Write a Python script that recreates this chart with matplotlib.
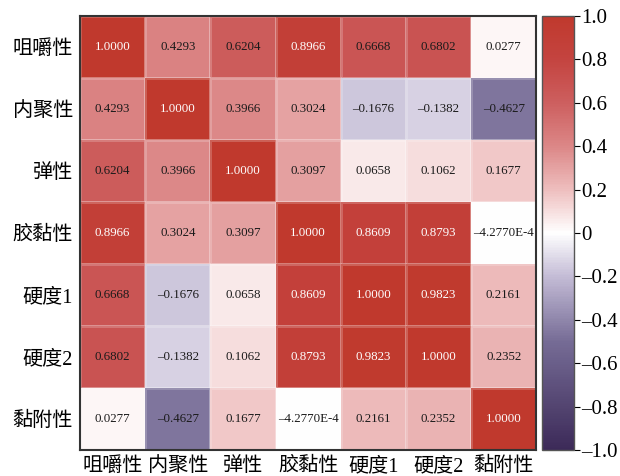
import numpy as np
import matplotlib
matplotlib.use("Agg")
import matplotlib.pyplot as plt
from matplotlib.colors import LinearSegmentedColormap

# texture profile attributes
labels = ["咀嚼性", "内聚性", "弹性", "胶黏性", "硬度1", "硬度2", "黏附性"]

r_chew = [1.0000, 0.4293, 0.6204, 0.8966, 0.6668, 0.6802, 0.0277]
r_cohe = [0.4293, 1.0000, 0.3966, 0.3024, -0.1676, -0.1382, -0.4627]
r_spri = [0.6204, 0.3966, 1.0000, 0.3097, 0.0658, 0.1062, 0.1677]
r_gumm = [0.8966, 0.3024, 0.3097, 1.0000, 0.8609, 0.8793, -4.2770e-4]
r_hard1 = [0.6668, -0.1676, 0.0658, 0.8609, 1.0000, 0.9823, 0.2161]
r_hard2 = [0.6802, -0.1382, 0.1062, 0.8793, 0.9823, 1.0000, 0.2352]
r_adhe = [0.0277, -0.4627, 0.1677, -4.2770e-4, 0.2161, 0.2352, 1.0000]

corr = np.array([r_chew, r_cohe, r_spri, r_gumm, r_hard1, r_hard2, r_adhe])

cbar_ticks = [1.0, 0.8, 0.6, 0.4, 0.2, 0, -0.2, -0.4, -0.6, -0.8, -1.0]
cbar_labels = ["1.0", "0.8", "0.6", "0.4", "0.2", "0",
               "–0.2", "–0.4", "–0.6", "–0.8", "–1.0"]

# diverging purple-white-red map
nodes = [
    (0.00, (60, 42, 88)),
    (0.25, (118, 108, 150)),
    (0.40, (196, 188, 214)),
    (0.50, (255, 255, 255)),
    (0.60, (238, 190, 190)),
    (0.70, (220, 135, 135)),
    (0.80, (205, 95, 95)),
    (0.90, (196, 68, 64)),
    (1.00, (192, 57, 45)),
]
cmap = LinearSegmentedColormap.from_list(
    "pw_red", [(p, tuple(c / 255 for c in rgb)) for p, rgb in nodes])

serif_cjk = ["Liberation Serif", "Noto Sans CJK SC"]


def fmt(v):
    if v != 0 and abs(v) < 1e-3:
        exp = int(np.floor(np.log10(abs(v))))
        s = f"{v / 10 ** exp:.4f}E{exp}"
    else:
        s = f"{v:.4f}"
    return s.replace("-", "–", 1) if s.startswith("-") else s


fig = plt.figure(figsize=(6.2, 4.76), dpi=100)
ax = fig.add_axes([0.129, 0.0546, 0.736, 0.912])
cax = fig.add_axes([0.874, 0.0546, 0.052, 0.912])

n = len(labels)
mesh = ax.pcolormesh(np.arange(n + 1), np.arange(n + 1), corr, cmap=cmap,
                     vmin=-1, vmax=1, edgecolor=(1, 1, 1, 0.2), linewidth=0.8)
ax.set_xlim(0, n)
ax.set_ylim(n, 0)

for i in range(n):
    for j in range(n):
        v = corr[i, j]
        ax.text(j + 0.5, i + 0.5, fmt(v), ha="center", va="center",
                fontsize=9.3, family="Liberation Serif",
                color="white" if v > 0.85 else "#1a1a1a")

ax.set_xticks(np.arange(n) + 0.5)
ax.set_yticks(np.arange(n) + 0.5)
ax.set_xticklabels(labels, family=serif_cjk, fontsize=14.5)
ax.set_yticklabels(labels, family=serif_cjk, fontsize=14.5)
ax.tick_params(length=0, pad=5)
for s in ax.spines.values():
    s.set_linewidth(1.5)
    s.set_color("#333333")

cb = fig.colorbar(mesh, cax=cax)
cb.set_ticks(cbar_ticks)
cb.set_ticklabels(cbar_labels)
cax.tick_params(labelsize=15, length=4, width=0.8, pad=1)
for t in cax.get_yticklabels():
    t.set_family("Liberation Serif")
cb.outline.set_linewidth(1.0)
cb.outline.set_edgecolor("#555555")

fig.savefig("out.png", dpi=100)
